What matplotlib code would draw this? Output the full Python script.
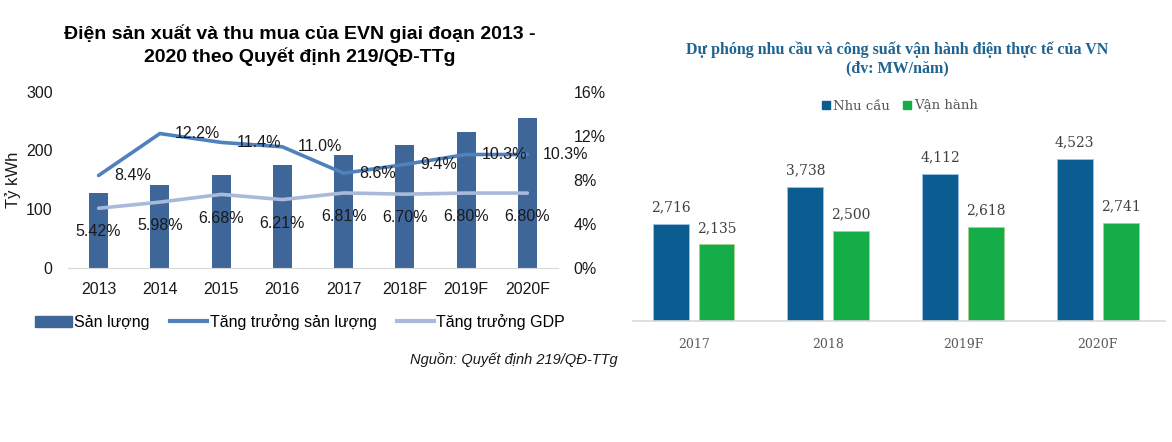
import matplotlib.pyplot as plt
from matplotlib.lines import Line2D
from matplotlib.patches import Patch
import numpy as np

years = ["2013", "2014", "2015", "2016", "2017", "2018F", "2019F", "2020F"]
san_luong = [127, 142, 159, 176, 192, 210, 231, 255]
tang_truong_sl = [8.4, 12.2, 11.4, 11.0, 8.6, 9.4, 10.3, 10.3]
tang_truong_gdp = [5.42, 5.98, 6.68, 6.21, 6.81, 6.70, 6.80, 6.80]

years_vn = ["2017", "2018", "2019F", "2020F"]
nhu_cau = [2716, 3738, 4112, 4523]
van_hanh = [2135, 2500, 2618, 2741]

W, H = 1172, 442
fig = plt.figure(figsize=(W / 100, H / 100), dpi=100)
fig.patch.set_facecolor("white")

sans = "Liberation Sans"
serif = "DejaVu Serif"


def box(x0, x1, y_top, y_bot):
    return [x0 / W, 1 - y_bot / H, (x1 - x0) / W, (y_bot - y_top) / H]


# ---- left chart ----
bar_col = "#3F6699"
line_col = "#4F81BD"
gdp_col = "#A9B9DA"

ax = fig.add_axes(box(68, 558, 91.7, 268))
x = np.arange(len(years))
ax.bar(x, san_luong, width=0.31, color=bar_col, zorder=2)
ax.set_xlim(-0.5, 7.5)
ax.set_ylim(0, 300)
ax.set_yticks([0, 100, 200, 300])
ax.set_xticks(x)
ax.set_xticklabels(years)
for s in ["top", "right", "left"]:
    ax.spines[s].set_visible(False)
ax.spines["bottom"].set_color("#D9D9D9")
ax.tick_params(axis="both", length=0, labelsize=11.5, labelcolor="#1a1a1a")
ax.tick_params(axis="y", pad=11)
ax.tick_params(axis="x", pad=10)
for lab in ax.get_xticklabels() + ax.get_yticklabels():
    lab.set_family(sans)

ax2 = ax.twinx()
ax2.set_ylim(0, 16)
ax2.set_yticks([0, 4, 8, 12, 16])
ax2.set_yticklabels([f"{v}%" for v in [0, 4, 8, 12, 16]])
for s in ax2.spines.values():
    s.set_visible(False)
ax2.tick_params(axis="y", length=0, labelsize=11.5, pad=11, labelcolor="#1a1a1a")
for lab in ax2.get_yticklabels():
    lab.set_family(sans)

ax2.plot(x, tang_truong_sl, color=line_col, lw=2.6, solid_capstyle="round", zorder=3)
ax2.plot(x, tang_truong_gdp, color=gdp_col, lw=2.6, solid_capstyle="round", zorder=3)
for xi, v in zip(x, tang_truong_sl):
    ax2.annotate(f"{v:.1f}%", (xi, v), xytext=(11, 0), textcoords="offset points",
                 ha="left", va="center", fontsize=11.5, family=sans, color="#1a1a1a", zorder=4)
for xi, v in zip(x, tang_truong_gdp):
    ax2.annotate(f"{v:.2f}%", (xi, v), xytext=(0, -17), textcoords="offset points",
                 ha="center", va="center", fontsize=11.5, family=sans, color="#1a1a1a", zorder=4)

fig.text(13 / W, 1 - 180 / H, "Tỷ kWh", rotation=90, ha="center", va="center",
         fontsize=12, family=sans, color="#1a1a1a")
fig.text(300 / W, 1 - 34 / H, "Điện sản xuất và thu mua của EVN giai đoạn 2013 -",
         ha="center", va="center", fontsize=14, fontweight="bold", family=sans)
fig.text(300 / W, 1 - 57 / H, "2020 theo Quyết định 219/QĐ-TTg",
         ha="center", va="center", fontsize=14, fontweight="bold", family=sans)

handles = [Patch(color=bar_col), Line2D([], [], color=line_col, lw=3),
           Line2D([], [], color=gdp_col, lw=3)]
fig.legend(handles, ["Sản lượng", "Tăng trưởng sản lượng", "Tăng trưởng GDP"],
           loc="center", bbox_to_anchor=(300 / W, 1 - 322 / H), ncol=3, frameon=False,
           prop={"family": sans, "size": 11.5}, handlelength=2.3, handletextpad=0.15,
           columnspacing=1.3)

fig.text(618 / W, 1 - 360 / H, "Nguồn: Quyết định 219/QĐ-TTg", ha="right", va="center",
         fontsize=10.5, style="italic", family=sans, color="#1a1a1a")

# ---- right chart ----
nc_col = "#0B5D91"
vh_col = "#15AD47"
grey = "#595959"

bx = fig.add_axes(box(633, 1165, 130, 321))
xr = np.arange(len(years_vn))
bx.bar(xr - 0.17, nhu_cau, width=0.267, color=nc_col, edgecolor="#9DC3E6", lw=0.6)
bx.bar(xr + 0.17, van_hanh, width=0.267, color=vh_col, edgecolor="#A9D18E", lw=0.6)
bx.set_xlim(-0.45, 3.5)
bx.set_ylim(0, 5330)
bx.set_yticks([])
bx.set_xticks(xr)
bx.set_xticklabels(years_vn, family=serif, fontsize=9, color=grey)
bx.tick_params(axis="x", length=0, pad=12)
for s in ["top", "right", "left"]:
    bx.spines[s].set_visible(False)
bx.spines["bottom"].set_color("#D9D9D9")
bx.spines["bottom"].set_linewidth(1.2)

for xi, v in zip(xr, nhu_cau):
    bx.annotate(f"{v:,}", (xi - 0.17, v), xytext=(0, 12), textcoords="offset points",
                ha="center", va="center", fontsize=10, family=serif, color="#404040")
for xi, v in zip(xr, van_hanh):
    bx.annotate(f"{v:,}", (xi + 0.17, v), xytext=(0, 12), textcoords="offset points",
                ha="center", va="center", fontsize=10, family=serif, color="#404040")

title_col = "#1F6391"
fig.text(897 / W, 1 - 50 / H, "Dự phóng nhu cầu và công suất vận hành điện thực tế của VN",
         ha="center", va="center", fontsize=11.5, fontweight="bold",
         family="Liberation Serif", color=title_col)
fig.text(897 / W, 1 - 68 / H, "(đv: MW/năm)",
         ha="center", va="center", fontsize=11.5, fontweight="bold",
         family="Liberation Serif", color=title_col)

leg = fig.legend([Patch(color=nc_col), Patch(color=vh_col)], ["Nhu cầu", "Vận hành"],
                 loc="center", bbox_to_anchor=(900 / W, 1 - 106 / H), ncol=2, frameon=False,
                 prop={"family": serif, "size": 9.5}, handlelength=0.6, handleheight=0.6,
                 handletextpad=0.25, columnspacing=1.0)
for t in leg.get_texts():
    t.set_color(grey)

fig.savefig("out.png", dpi=100)
